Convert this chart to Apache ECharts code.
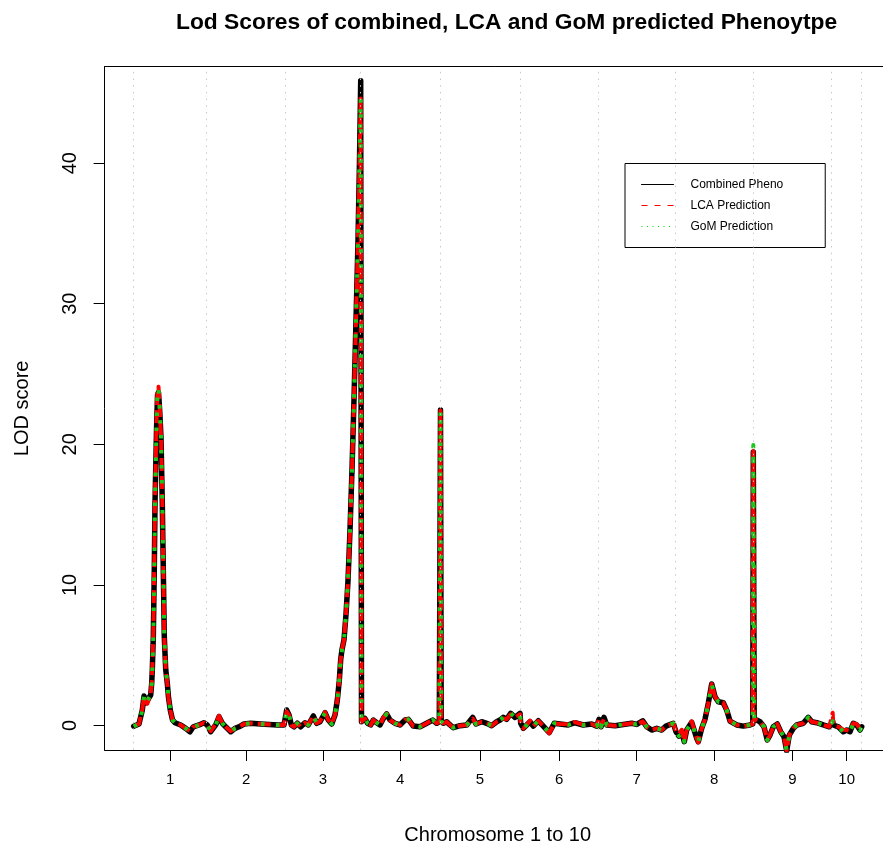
<!DOCTYPE html>
<html>
<head>
<meta charset="utf-8">
<script src="https://cdn.jsdelivr.net/npm/echarts@6/dist/echarts.min.js"></script>
<style>
html,body{margin:0;padding:0;background:#fff;}
#chart{width:883px;height:846px;}
</style>
</head>
<body>
<div id="chart"></div>
<script>
// Chromosome boundaries (cumulative position, cM-like units)
const chrBounds = [0, 73, 152, 226.6, 306.3, 386.3, 464.6, 541.3, 619.6, 698, 728];
const chrLabels = ['1','2','3','4','5','6','7','8','9','10'];
const yTicks = [0, 10, 20, 30, 40];

// Genome positions of the LOD profile
const positions = [
  0, 5.3, 8.6, 10.3, 12.0, 13.6, 17.0, 18.0, 18.6, 19.6,
  20.6, 21.3, 22.8, 23.8, 24.8, 26.0, 27.3, 28.6, 29.6, 30.6,
  32.0, 33.6, 34.8, 36.6, 38.8, 41.3, 47.0, 52.0, 56.3, 59.6,
  65.3, 70.3, 73.6, 77.0, 82.0, 85.3, 88.6, 92.0, 97.0, 101.3,
  105.3, 110.3, 117.0, 127.0, 143.6, 150.3, 153.0, 155.3, 157.6, 160.3,
  163.6, 167.0, 171.3, 174.6, 179.6, 183.0, 186.3, 191.3, 194.6, 198.0,
  201.3, 203.6, 205.6, 207.0, 208.3, 210.3, 212.3, 214.3, 216.3, 218.3,
  220.3, 222.3, 224.3, 225.8, 227.0, 227.8, 229.6, 231.3, 234.0, 237.0,
  239.6, 243.0, 246.3, 249.6, 253.0, 256.3, 261.3, 266.3, 271.3, 274.6,
  279.6, 286.3, 293.0, 299.0, 303.0, 305.6, 306.1, 306.8, 307.5, 309.6,
  313.0, 316.3, 319.6, 326.3, 333.0, 339.0, 342.3, 348.0, 353.0, 358.0,
  363.0, 366.3, 369.6, 373.0, 377.0, 381.3, 386.3, 387.0, 389.6, 393.0,
  396.3, 399.6, 404.6, 409.6, 415.6, 420.6, 426.3, 434.6, 441.3, 449.6,
  458.0, 463.0, 465.3, 467.3, 470.3, 473.0, 481.3, 489.6, 498.0, 503.0,
  509.0, 513.0, 518.0, 523.0, 528.0, 532.3, 539.6, 542.3, 545.3, 548.0,
  550.6, 553.0, 558.0, 559.6, 563.0, 564.6, 568.0, 571.3, 574.6, 578.0,
  581.3, 584.6, 589.6, 593.0, 596.3, 603.0, 609.6, 616.3, 619.1, 619.6,
  620.5, 623.0, 626.3, 630.3, 633.6, 636.3, 639.6, 643.6, 647.0, 650.3,
  653.0, 655.6, 659.6, 663.0, 669.6, 674.6, 678.0, 683.0, 689.6, 695.6,
  699.0, 699.6, 704.6, 709.6, 713.0, 716.3, 719.6, 723.0, 726.3, 728.0
];

// Combined phenotype LOD
const lodCombined = [
  -0.05, 0.11, 1.10, 2.10, 1.60, 1.46, 2.17, 3.00, 3.95, 6.30,
  11.10, 15.80, 21.00, 23.50, 23.70, 22.40, 20.50, 15.80, 11.10, 6.30,
  4.00, 3.00, 2.00, 1.10, 0.40, 0.20, 0.04, -0.20, -0.44, -0.09,
  0.04, 0.20, 0.04, -0.44, 0.04, 0.63, 0.16, -0.09, -0.44, -0.20,
  -0.09, 0.11, 0.16, 0.11, 0.04, 0.04, 1.10, 0.75, 0.04, -0.09,
  0.16, -0.09, 0.20, 0.04, 0.68, 0.16, 0.27, 0.91, 0.39, 0.11,
  0.75, 1.80, 3.20, 4.70, 5.40, 6.10, 7.90, 10.30, 13.90, 18.20,
  23.20, 28.80, 34.50, 40.20, 45.86, 0.27, 0.16, 0.50, 0.16, 0.04,
  0.39, 0.20, 0.04, 0.50, 0.82, 0.39, 0.16, 0.04, 0.39, 0.44,
  -0.04, -0.09, 0.16, 0.39, 0.16, 0.27, 0.30, 22.45, 0.30, 0.16,
  0.27, 0.04, -0.15, -0.01, 0.04, 0.58, 0.11, 0.27, 0.16, -0.01,
  0.27, 0.39, 0.58, 0.44, 0.87, 0.58, 0.87, 0.16, -0.20, 0.04,
  0.27, -0.04, 0.34, -0.04, -0.50, 0.16, 0.11, 0.04, 0.20, 0.04,
  0.11, -0.04, 0.44, -0.09, 0.58, 0.04, -0.01, 0.08, 0.16, 0.08,
  0.34, -0.09, -0.32, -0.20, -0.32, -0.04, 0.16, -0.44, -0.75, -0.44,
  -1.15, -0.32, 0.23, 0.16, -0.91, -1.15, -0.20, 0.44, 1.58, 2.95,
  2.05, 1.69, 1.62, 1.10, 0.32, 0.04, -0.04, 0.04, 0.11, 19.45,
  0.40, 0.39, 0.27, -0.09, -1.03, -0.68, -0.09, 0.11, -0.44, -0.80,
  -1.80, -0.68, -0.20, 0.04, 0.16, 0.58, 0.27, 0.20, 0.04, -0.09,
  0.30, 0.04, -0.09, -0.44, -0.32, -0.44, 0.16, 0.04, -0.32, -0.09
];

// LCA predicted phenotype LOD
const lodLCA = [
  -0.05, 0.11, 1.15, 2.10, 1.70, 1.55, 2.25, 3.10, 4.05, 6.50,
  11.40, 16.10, 21.40, 23.90, 24.10, 22.70, 20.60, 15.90, 11.10, 6.30,
  4.00, 3.00, 2.00, 1.10, 0.40, 0.20, 0.04, -0.20, -0.40, -0.09,
  0.04, 0.20, 0.04, -0.40, 0.10, 0.70, 0.16, -0.09, -0.40, -0.20,
  -0.09, 0.11, 0.16, 0.11, 0.04, 0.04, 1.00, 0.75, 0.04, -0.09,
  0.16, -0.09, 0.20, 0.04, 0.68, 0.16, 0.30, 0.95, 0.39, 0.11,
  0.75, 1.80, 3.20, 4.70, 5.40, 6.10, 7.90, 10.30, 13.90, 18.20,
  23.20, 28.80, 34.50, 40.00, 44.60, 0.27, 0.16, 0.50, 0.16, 0.04,
  0.39, 0.20, 0.04, 0.55, 0.85, 0.39, 0.16, 0.04, 0.42, 0.44,
  -0.04, -0.09, 0.16, 0.42, 0.16, 0.27, 0.30, 22.40, 0.30, 0.16,
  0.27, 0.04, -0.15, -0.01, 0.04, 0.50, 0.11, 0.27, 0.20, -0.01,
  0.27, 0.39, 0.50, 0.44, 0.80, 0.58, 0.80, 0.16, -0.20, 0.04,
  0.35, -0.04, 0.34, -0.04, -0.55, 0.16, 0.11, 0.10, 0.25, 0.04,
  0.11, -0.04, 0.50, -0.09, 0.50, 0.04, -0.01, 0.08, 0.16, 0.08,
  0.30, -0.09, -0.32, -0.20, -0.32, -0.04, 0.16, -0.40, -0.60, -0.30,
  -1.15, -0.32, 0.30, 0.16, -0.91, -1.20, -0.20, 0.44, 1.58, 2.95,
  2.05, 1.69, 1.62, 1.10, 0.32, 0.04, -0.04, 0.04, 0.11, 19.50,
  0.40, 0.39, 0.27, -0.09, -1.03, -0.68, -0.09, 0.11, -0.44, -0.80,
  -1.80, -0.68, -0.20, 0.04, 0.16, 0.50, 0.27, 0.20, 0.04, -0.09,
  0.91, 0.04, -0.09, -0.30, -0.32, -0.40, 0.16, 0.10, -0.25, -0.09
];

// GoM predicted phenotype LOD
const lodGoM = [
  -0.05, 0.11, 1.10, 2.10, 1.60, 1.46, 2.17, 3.00, 3.95, 6.30,
  11.10, 15.80, 21.00, 23.60, 24.00, 22.50, 20.50, 15.80, 11.10, 6.30,
  4.00, 3.00, 2.00, 1.10, 0.40, 0.20, 0.04, -0.20, -0.44, -0.09,
  0.04, 0.20, 0.04, -0.44, 0.04, 0.63, 0.16, -0.09, -0.44, -0.20,
  -0.09, 0.11, 0.16, 0.11, 0.04, 0.04, 1.10, 0.75, 0.04, -0.09,
  0.16, -0.09, 0.20, 0.04, 0.68, 0.16, 0.27, 0.91, 0.39, 0.11,
  0.75, 1.80, 3.20, 4.70, 5.40, 6.10, 7.90, 10.30, 13.90, 18.20,
  23.20, 28.80, 34.50, 40.00, 44.60, 0.27, 0.16, 0.50, 0.16, 0.04,
  0.39, 0.20, 0.04, 0.50, 0.82, 0.39, 0.16, 0.04, 0.39, 0.44,
  -0.04, -0.09, 0.16, 0.39, 0.16, 0.27, 0.30, 22.40, 0.30, 0.16,
  0.27, 0.04, -0.15, -0.01, 0.04, 0.58, 0.11, 0.27, 0.16, -0.01,
  0.27, 0.39, 0.58, 0.44, 0.87, 0.58, 0.87, 0.16, -0.20, 0.04,
  0.27, -0.04, 0.34, -0.04, -0.50, 0.16, 0.11, 0.04, 0.20, 0.04,
  0.11, -0.04, 0.44, -0.09, 0.58, 0.04, -0.01, 0.08, 0.16, 0.08,
  0.34, -0.09, -0.32, -0.20, -0.32, -0.04, 0.16, -0.44, -0.75, -0.44,
  -1.15, -0.32, 0.23, 0.16, -0.91, -1.15, -0.20, 0.44, 1.58, 2.95,
  2.05, 1.69, 1.62, 1.10, 0.32, 0.04, -0.04, 0.04, 0.11, 19.95,
  0.40, 0.39, 0.27, -0.09, -1.03, -0.68, -0.09, 0.11, -0.44, -0.80,
  -1.80, -0.68, -0.20, 0.04, 0.16, 0.58, 0.27, 0.20, 0.04, -0.09,
  0.30, 0.04, -0.09, -0.44, -0.32, -0.44, 0.16, 0.04, -0.32, -0.09
];

const FONT = '"Liberation Sans", Arial, Helvetica, sans-serif';
const chrMids = chrLabels.map((_, i) => (chrBounds[i] + chrBounds[i + 1]) / 2);
const zip = arr => positions.map((p, i) => [p, arr[i]]);
const X_MIN = -29.1, X_MAX = 757.1;
const hiddenSymbol = {opacity: 0, borderWidth: 0};

const chart = echarts.init(document.getElementById('chart'), null, {renderer: 'canvas'});
chart.setOption({
  backgroundColor: '#ffffff',
  animation: false,
  title: {
    text: 'Lod Scores of combined, LCA and GoM predicted Phenoytpe',
    left: 171, top: 6,
    textStyle: {fontFamily: FONT, fontSize: 22.8, fontWeight: 'bold', color: '#000'}
  },
  legend: {
    orient: 'vertical',
    left: 625, top: 163.5,
    padding: [14, 42, 14, 16],
    itemGap: 7,
    itemWidth: 32, itemHeight: 14,
    backgroundColor: '#fff',
    borderColor: '#000', borderWidth: 1, borderRadius: 0,
    itemStyle: hiddenSymbol,
    textStyle: {fontFamily: FONT, fontSize: 12, color: '#000', lineHeight: 14, padding: [0, 0, 0, 12]},
    data: [
      {name: 'Combined Pheno', itemStyle: hiddenSymbol, lineStyle: {width: 1, color: '#000', type: 'solid', opacity: 1}},
      {name: 'LCA Prediction', itemStyle: hiddenSymbol, lineStyle: {width: 1, color: '#ff0000', type: [6, 7], opacity: 1}},
      {name: 'GoM Prediction', itemStyle: hiddenSymbol, lineStyle: {width: 1, color: '#00e000', type: [1, 4.5], opacity: 1}}
    ]
  },
  grid: {
    left: 104.6, top: 66.7, width: 786.2, height: 683.3,
    outerBoundsMode: 'none',
    containLabel: false,
    show: false
  },
  xAxis: [
    {
      type: 'value', position: 'bottom',
      min: X_MIN, max: X_MAX,
      name: 'Chromosome 1 to 10',
      nameLocation: 'middle', nameGap: 75,
      nameTextStyle: {fontFamily: FONT, fontSize: 20, color: '#000'},
      axisLine: {show: true, onZero: false, lineStyle: {color: '#000', width: 1}},
      splitLine: {show: false},
      axisTick: {show: true, customValues: chrMids, length: 11, lineStyle: {color: '#000', width: 1}},
      axisLabel: {
        show: true, customValues: chrMids, margin: 22,
        fontFamily: FONT, fontSize: 15, color: '#000',
        formatter: v => {
          let best = 0;
          chrMids.forEach((m, i) => { if (Math.abs(m - v) < Math.abs(chrMids[best] - v)) best = i; });
          return chrLabels[best];
        }
      }
    },
    {
      type: 'value', position: 'top',
      min: X_MIN, max: X_MAX,
      axisLine: {show: true, onZero: false, lineStyle: {color: '#000', width: 1}},
      axisTick: {show: false}, axisLabel: {show: false}, splitLine: {show: false}
    }
  ],
  yAxis: {
    type: 'value',
    min: -1.74, max: 46.86,
    name: 'LOD score',
    nameLocation: 'middle', nameGap: 72, nameRotate: 90,
    nameTextStyle: {fontFamily: FONT, fontSize: 20, color: '#000'},
    axisLine: {show: true, onZero: false, lineStyle: {color: '#000', width: 1}},
    splitLine: {show: false},
    axisTick: {show: true, customValues: yTicks, length: 11, lineStyle: {color: '#000', width: 1}},
    axisLabel: {
      show: true, customValues: yTicks, rotate: 90, margin: 24,
      fontFamily: FONT, fontSize: 20, color: '#000'
    }
  },
  series: [
    {
      name: 'Combined Pheno', type: 'line', data: zip(lodCombined),
      showSymbol: false, symbol: 'none', clip: true, z: 2,
      itemStyle: {color: '#000'},
      lineStyle: {color: '#000', width: 5.5, type: 'solid', cap: 'round', join: 'round'},
      markLine: {
        silent: true, symbol: 'none', label: {show: false},
        lineStyle: {color: '#c8c8c8', width: 1, type: [1.5, 5.2]},
        data: chrBounds.map(b => ({xAxis: b}))
      }
    },
    {
      name: 'LCA Prediction', type: 'line', data: zip(lodLCA),
      showSymbol: false, symbol: 'none', clip: true, z: 3,
      itemStyle: {color: '#ff0000'},
      lineStyle: {color: '#ff0000', width: 4, type: [13, 5], cap: 'butt', join: 'round'}
    },
    {
      name: 'GoM Prediction', type: 'line', data: zip(lodGoM),
      showSymbol: false, symbol: 'none', clip: true, z: 4,
      itemStyle: {color: '#19c819'},
      lineStyle: {color: '#19c819', width: 4, type: [3.5, 11.5], cap: 'butt', join: 'round'}
    }
  ]
});
</script>
</body>
</html>
